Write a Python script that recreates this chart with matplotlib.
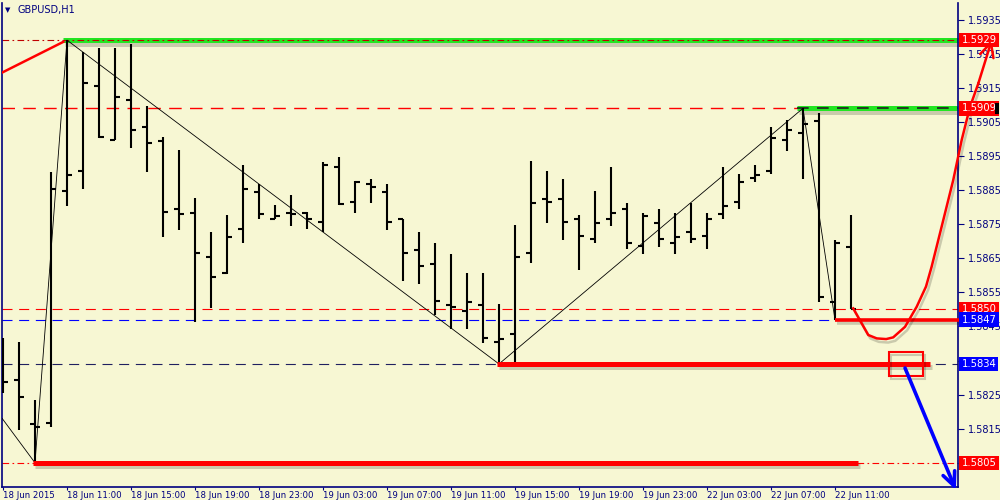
import matplotlib
matplotlib.use('Agg')
import matplotlib.pyplot as plt
import matplotlib.patheffects as pe
from matplotlib.patches import Rectangle
import numpy as np

# ---------------- data (GBPUSD H1 bars) ----------------
opens = [1.58300, 1.58293, 1.58164, 1.58166, 1.58847, 1.58906, 1.59155, 1.58997, 1.59114, 1.59036,
         1.58995, 1.58794, 1.58783, 1.58654, 1.58606, 1.58737, 1.58845, 1.58765, 1.58783, 1.58783,
         1.58757, 1.58917, 1.58816, 1.58867, 1.58845, 1.58764, 1.58674, 1.58633, 1.58513, 1.58496,
         1.58513, 1.58405, 1.58427, 1.58666, 1.58824, 1.58824, 1.58764, 1.58707, 1.58765, 1.58795,
         1.58687, 1.58754, 1.58696, 1.58726, 1.58715, 1.58779, 1.58816, 1.58886, 1.58906, 1.58997,
         1.59018, 1.59053, 1.58522, 1.58684]
highs = [1.58415, 1.58403, 1.58234, 1.58904, 1.59290, 1.59256, 1.59266, 1.59266, 1.59278, 1.59096,
         1.59005, 1.58967, 1.58826, 1.58727, 1.58777, 1.58925, 1.58867, 1.58806, 1.58835, 1.58785,
         1.58933, 1.58946, 1.58876, 1.58884, 1.58867, 1.58766, 1.58727, 1.58694, 1.58664, 1.58606,
         1.58606, 1.58516, 1.58747, 1.58935, 1.58906, 1.58884, 1.58777, 1.58847, 1.58918, 1.58813,
         1.58784, 1.58795, 1.58784, 1.58813, 1.58784, 1.58917, 1.58896, 1.58925, 1.59036, 1.59055,
         1.59090, 1.59075, 1.58705, 1.58777]
lows = [1.58254, 1.58146, 1.58050, 1.58156, 1.58804, 1.58853, 1.59004, 1.58997, 1.58974, 1.58904,
        1.58713, 1.58733, 1.58463, 1.58505, 1.58604, 1.58694, 1.58764, 1.58764, 1.58745, 1.58735,
        1.58726, 1.58806, 1.58783, 1.58813, 1.58733, 1.58584, 1.58574, 1.58485, 1.58442, 1.58442,
        1.58402, 1.58340, 1.58342, 1.58635, 1.58754, 1.58705, 1.58615, 1.58694, 1.58745, 1.58676,
        1.58664, 1.58684, 1.58664, 1.58694, 1.58676, 1.58764, 1.58795, 1.58874, 1.58896, 1.58965,
        1.58884, 1.58522, 1.58470, 1.58500]
closes = [1.58288, 1.58244, 1.58156, 1.58853, 1.58894, 1.59165, 1.59007, 1.59124, 1.59027, 1.58988,
          1.58786, 1.58779, 1.58666, 1.58596, 1.58713, 1.58854, 1.58779, 1.58775, 1.58779, 1.58765,
          1.58924, 1.58808, 1.58874, 1.58858, 1.58757, 1.58666, 1.58628, 1.58525, 1.58508, 1.58522,
          1.58417, 1.58413, 1.58654, 1.58813, 1.58815, 1.58757, 1.58715, 1.58754, 1.58783, 1.58696,
          1.58775, 1.58707, 1.58713, 1.58707, 1.58764, 1.58804, 1.58874, 1.58894, 1.59003, 1.59026,
          1.59044, 1.58537, 1.58694, 1.58500]

time_tick_bars = [0, 4, 8, 12, 16, 20, 24, 28, 32, 36, 40, 44, 48, 52]
time_tick_labels = ['18 Jun 2015', '18 Jun 11:00', '18 Jun 15:00', '18 Jun 19:00', '18 Jun 23:00',
                    '19 Jun 03:00', '19 Jun 07:00', '19 Jun 11:00', '19 Jun 15:00', '19 Jun 19:00',
                    '19 Jun 23:00', '22 Jun 03:00', '22 Jun 07:00', '22 Jun 11:00']
price_ticks = [1.5805, 1.5815, 1.5825, 1.5835, 1.5845, 1.5855, 1.5865, 1.5875, 1.5885, 1.5895,
               1.5905, 1.5915, 1.5925, 1.5935]
# tick labels hidden behind the price boxes in the reference
hidden_tick_labels = [1.5805, 1.5835]

# zigzag extremes (bar index, price)
zigzag_bars = [-0.05, 2, 4, 31, 50, 52]
zigzag_prices = [1.58180, 1.58050, 1.59290, 1.58340, 1.59090, 1.58470]

# horizontal levels
level_prices = {'r1': 1.5929, 'r2': 1.5909, 'bid': 1.5850, 's1': 1.5847, 's2': 1.5834, 's3': 1.5805}

# hand-drawn red forecast curve (bar index, price)
curve_bars = [53.14, 53.67, 54.08, 54.61, 55.20, 55.64, 56.38, 57.11, 57.69, 58.04, 58.77, 59.39,
              59.92, 60.44, 60.96]
curve_prices = [1.58503, 1.58459, 1.58425, 1.58415, 1.58413, 1.58418, 1.58449, 1.58508, 1.58567,
                1.58625, 1.58762, 1.58879, 1.58997, 1.59094, 1.59163]
curve_tip = (61.80, 1.59290)

BG = '#F7F7D3'
NAVY = '#000080'
RED = '#FF0000'
GREEN = '#22E622'
BLUE = '#0000FF'

fig = plt.figure(figsize=(10, 5), dpi=100, facecolor=BG)
ax = fig.add_axes([2.2 / 1000, 13 / 500, (958 - 2.2) / 1000, (487 - 3) / 500])
ax.set_facecolor(BG)
ax.set_xlim(-0.05, 59.69)
ax.set_ylim(1.57979, 1.59399)

shadow = [pe.SimpleLineShadow(offset=(1.5, -2.5), shadow_color='black', alpha=0.18), pe.Normal()]

# full-width reference lines
ax.axhline(level_prices['r2'], color=RED, lw=1, dashes=(9, 6), zorder=1)
ax.axhline(level_prices['bid'], color=RED, lw=0.8, dashes=(9, 6), zorder=1)
ax.axhline(level_prices['s1'], color=BLUE, lw=0.8, dashes=(9, 6), zorder=1)
ax.axhline(level_prices['s2'], color='#202060', lw=0.8, dashes=(9, 6), zorder=1)

# thick drawn levels
ax.plot([3.75, 59.69], [level_prices['r1']] * 2, color=GREEN, lw=3.6, solid_capstyle='butt',
        path_effects=shadow, zorder=2, clip_on=False)
ax.plot([49.6, 59.69], [level_prices['r2']] * 2, color=GREEN, lw=3.6, solid_capstyle='butt',
        path_effects=shadow, zorder=2, clip_on=False)
ax.plot([49.6, 59.69], [level_prices['r2']] * 2, color='#202020', lw=1.2, dashes=(7, 5), zorder=2.1)
ax.axhline(level_prices['r1'], color='#C00000', lw=0.8, dashes=(6, 3, 1.5, 3), zorder=2.2)
ax.axhline(level_prices['s3'], color=RED, lw=0.8, dashes=(6, 3, 1.5, 3), zorder=1)

ax.plot([30.875, 57.94], [level_prices['s2']] * 2, color=RED, lw=3.6, solid_capstyle='butt',
        path_effects=shadow, zorder=4)
ax.plot([1.875, 53.44], [level_prices['s3']] * 2, color=RED, lw=3.6, solid_capstyle='butt',
        path_effects=shadow, zorder=4)
ax.plot([52.0, 59.8], [level_prices['s1']] * 2, color=RED, lw=2.6, solid_capstyle='butt',
        path_effects=shadow, zorder=4, clip_on=False)

# red line top-left
ax.plot([-0.05, 3.77], [1.59195, 1.59285], color=RED, lw=1.8, zorder=3)

# zigzag
ax.plot(zigzag_bars, zigzag_prices, color='black', lw=0.6, zorder=3)

# OHLC bars
x = np.arange(len(opens))
ax.vlines(x, lows, highs, color='black', lw=1.5, zorder=3.5)
ax.hlines(opens, x - 0.33, x, color='black', lw=1.5, zorder=3.5)
ax.hlines(closes, x, x + 0.33, color='black', lw=1.5, zorder=3.5)

# red forecast curve with arrow
ax.plot(curve_bars, curve_prices, color=RED, lw=1.8, path_effects=shadow, zorder=5, clip_on=False)
ax.annotate('', xy=curve_tip, xytext=(curve_bars[-1], curve_prices[-1]),
            arrowprops=dict(arrowstyle='->,head_length=1.0,head_width=0.5', color=RED, lw=1.8,
                            shrinkA=0, shrinkB=0),
            annotation_clip=False, zorder=5)

# red box and blue arrow
ax.add_patch(Rectangle((55.375, 1.58305), 2.125, 0.0007, fill=False, ec=RED, lw=1.5,
                       path_effects=shadow, zorder=5))
ax.annotate('', xy=(59.56, 1.57970), xytext=(56.38, 1.58328),
            arrowprops=dict(arrowstyle='->,head_length=1.0,head_width=0.45', color=BLUE, lw=2.6,
                            shrinkA=0, shrinkB=0),
            annotation_clip=False, zorder=5)

# axes styling
ax.spines['top'].set_visible(False)
for s in ['left', 'right', 'bottom']:
    ax.spines[s].set_color(NAVY)
    ax.spines[s].set_linewidth(1.2)
ax.yaxis.tick_right()
ax.set_yticks(price_ticks)
ax.set_yticklabels(['' if p in hidden_tick_labels else '%.4f' % p for p in price_ticks])
ax.tick_params(axis='y', direction='out', length=4, color=NAVY, labelcolor=NAVY, labelsize=7, pad=3)
ax.set_xticks(time_tick_bars)
ax.set_xticklabels(time_tick_labels)
for lab in ax.get_xticklabels():
    lab.set_ha('left')
    lab.set_fontstretch('condensed')
ax.tick_params(axis='x', direction='out', length=2.5, color=NAVY, labelcolor=NAVY, labelsize=6.8, pad=0.3)

# price label boxes
boxes = [(level_prices['r1'], RED), (level_prices['r2'], RED), (level_prices['bid'], RED),
         (level_prices['s1'], BLUE), (level_prices['s2'], BLUE), (level_prices['s3'], RED)]
for p, c in boxes:
    ax.annotate('%.4f' % p, xy=(1, p), xycoords=('axes fraction', 'data'), xytext=(2.5, 0),
                textcoords='offset points', ha='left', va='center', color='white', fontsize=7.2,
                bbox=dict(boxstyle='square,pad=0.22', fc=c, ec='none'), annotation_clip=False, zorder=6)
fig.add_artist(Rectangle((995 / 1000, 1 - 114 / 500), 4 / 1000, 11 / 500, fc='black', ec='none',
                         transform=fig.transFigure, zorder=7))

# title
fig.text(8 / 1000, 1 - 10 / 500, '▼', color=NAVY, fontsize=5, va='center', ha='center')
fig.text(18 / 1000, 1 - 10 / 500, 'GBPUSD,H1', color=NAVY, fontsize=7, va='center', ha='left')

fig.savefig('out.png', dpi=100, facecolor=BG)
